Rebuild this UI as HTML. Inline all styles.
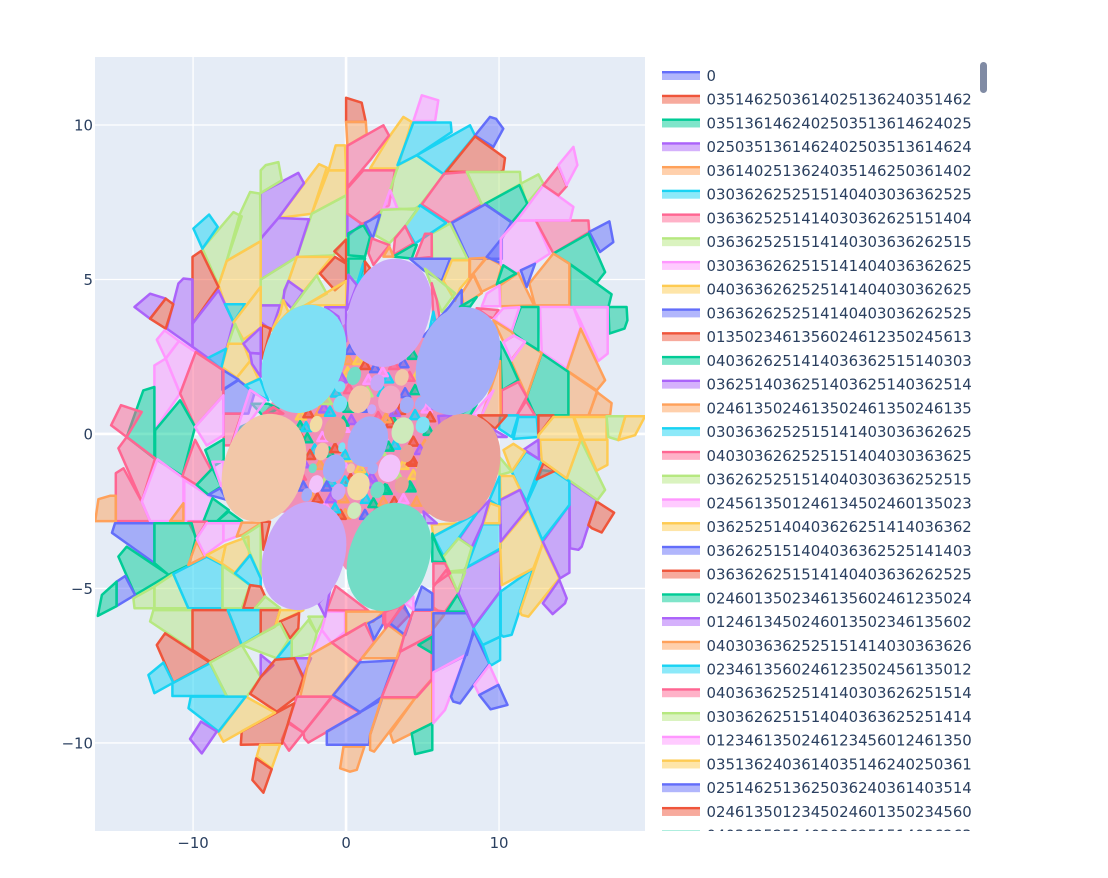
<!DOCTYPE html>
<html><head><meta charset="utf-8"><title>Polygon tiling chart</title>
<style>html,body{margin:0;padding:0;background:#fff}svg{display:block}text{font-family:"DejaVu Sans","Liberation Sans",sans-serif;font-size:14.9px;fill:#2a3f5f}</style>
</head><body>
<svg id="chart" width="1108" height="878" viewBox="0 0 1108 878" xmlns="http://www.w3.org/2000/svg">
<defs>
<clipPath id="plot-clip"><rect x="95" y="57" width="550" height="774"/></clipPath>
<clipPath id="legend-clip"><rect x="655" y="57" width="340" height="774"/></clipPath>
</defs>
<rect x="95" y="57" width="550" height="774" fill="#E5ECF6"/>
<g id="grid"></g>
<g id="cells" clip-path="url(#plot-clip)"></g>
<g id="ticks"></g>
<g id="legend" clip-path="url(#legend-clip)"></g>
<rect x="980" y="62" width="7" height="31" rx="3.5" fill="#808BA4"/>
</svg>
<script>
const legendNames = ["0","0351462503614025136240351462","0351361462402503513614624025","0250351361462402503513614624","0361402513624035146250361402",
"0303626252515140403036362525","0363625251414030362625151404","0363625251514140303636262515","0303636262515141404036362625","0403636262525141404030362625",
"0363626252514140403036262525","0135023461356024612350245613","0403626251414036362515140303","0362514036251403625140362514","0246135024613502461350246135",
"0303636252515141403036362625","0403036262525151404030363625","0362625251514040303636252515","0245613501246134502460135023","0362525140403626251414036362",
"0362625151404036362525141403","0363626251514140403636262525","0246013502346135602461235024","0124613450246013502346135602","0403036362525151414030363626",
"0234613560246123502456135012","0403636252514140303626251514","0303626251514040363625251414","0123461350246123456012461350","0351362403614035146240250361",
"0251462513625036240361403514","0246135012345024601350234560","0403625251403036251514036263"];
const seriesColors = ["#636efa","#EF553B","#00cc96","#ab63fa","#FFA15A","#19d3f3","#FF6692","#B6E880","#FF97FF","#FECB52"];
const xTickValues = [-10,0,10];
const yTickValues = [10,5,0,-5,-10];
const xRange = [-16.41,19.54];
const yRange = [12.2,-12.85];

/* each cell: colour index, then x,y pairs in data units */
const upperLeftCells = [
[1,0,10.88,1.02,10.72,1.29,10.1,0,10.1],[4,0,10.1,1.29,10.1,1.35,9.7,.09,9.33],
[9,-1.15,8.53,-.68,9.34,-.07,9.34,0,8.53],[9,-2.24,7.13,-1.15,8.53,0,8.53,0,7.72],[9,-4.42,6.99,-1.77,8.73,-1.26,8.62,-2.24,7.13],
[7,-3.22,5.73,-2.24,7.13,0,7.72,0,6.32,-.83,5.78],[3,-5.58,6.32,-5.58,7.8,-3.12,8.45,-2.75,8.12,-4.42,6.99],[7,-5.58,7.8,-5.58,8.53,-5.25,8.7,-4.42,8.8,-4.2,8.21],
[3,-5.58,6.32,-4.42,6.99,-2.42,6.95,-3.22,5.73,-5.58,5],[7,-7.8,5.6,-6.93,7.13,-6.27,7.83,-5.62,7.78,-5.58,6.24],[7,-8.34,4.81,-9.39,6,-7.36,7.18,-6.82,7.04,-7.8,5.6],
[5,-9.39,6,-9.98,6.65,-8.95,7.1,-8.39,6.7],[9,-7.8,5.6,-5.58,6.24,-5.58,4.76,-7.36,3.62,-7.91,4.2,-8.34,4.81],[1,-10.04,3.57,-10.04,5.73,-9.48,5.92,-8.34,4.76],
[3,-11.72,3.41,-10.96,4.87,-10.63,5.03,-10.04,5,-10.04,2.82,-10.96,3.14],[3,-13.83,4.11,-12.81,4.54,-11.79,4.38,-12.81,3.73],[1,-12.81,3.73,-11.79,4.38,-11.29,4.2,-11.79,3.41],
[3,-10.04,3.57,-8.34,4.65,-7.36,3.62,-8.17,2.11,-9.11,2.49,-10.04,2.82],[7,-5.58,5,-3.22,5.73,-4.31,4.16,-5.58,4.16],[5,-7.91,4.2,-6.6,4.2,-7.36,3.62],
[3,-5.58,4.16,-4.31,4.16,-4.86,3.35,-5.58,3.62],[9,-3.77,4.95,-3.22,5.73,-.94,5.73,-2.79,4.6],[1,-1.7,5.19,-.72,5.73,0,5.51,0,4.97,-.72,4.65],[1,-.76,5.91,0,6.29,0,5.57],
[3,-4.03,4.65,-3.77,4.95,-2.79,4.6,-3.55,4.06,-4.1,4.33],[7,-3.66,3.98,-1.92,5.13,-1.26,4.54,-2.68,4.16],[9,-2.68,4.16,0,4.95,0,4.16],[9,-4.86,3.35,-4.31,3.89,-4.1,4.33,-3.77,3.95],
[1,-5.51,3.52,-4.92,3.41,-5.29,2.71,-5.51,2.44],[9,-7.36,3.62,-5.58,4.76,-5.58,3.44,-6.71,3.05],[7,-7.69,2.92,-7.25,3.57,-6.71,2.92],[9,-7.69,2.92,-6.71,2.92,-6.27,2.36,-7.15,1.82,-8.13,2.17],
[9,-7.15,1.82,-6.27,2.36,-5.73,1.79,-6.6,1.57],[3,-6.71,2.92,-5.58,3.44,-5.58,2.6,-6.27,2.62],[3,-6.27,2.62,-5.58,2.6,-5.58,1.85,-6.15,2.27],[5,-9.11,2.44,-7.84,2.76,-8.17,2.11],
[0,-8.02,1.43,-7.04,1.74,-6.6,1.57,-5.99,1.31,-6.38,.66,-8.02,.66],[0,-8.08,2.08,-7.04,1.76,-8.08,1.43],[5,-6.6,1.57,-5.62,1.79,-5.08,1.09,-5.95,1.31],[6,-8,.66,-6.82,.66,-7.52,-.37,-8,-.37],
[2,-6.16,.98,-5.08,.98,-4.42,.82,-5.4,.57],[2,-6.88,.23,-5.4,.57,-7.52,-.4],[8,-6.27,1.43,-5.25,1.09,-7.47,-.37],[6,-5.4,.66,-4.75,.87,-4.1,.66],
[8,-12.37,3.05,-11.87,3.35,-10.92,3.01,-11.79,2.44],[8,-11.79,2.44,-10.92,3.01,-9.83,2.65,-10.85,1.31],[8,-12.53,.12,-12.53,2.22,-11.79,2.44,-10.85,1.31],
[6,-10.85,1.31,-9.83,2.65,-8.02,2.06,-8.02,1.25,-9.87,.23],[2,-12.48,.12,-10.85,1.09,-9.87,.23,-10.7,-1.36,-12.48,-.79],[8,-9.87,.23,-8.02,1.25,-8.02,-.04,-9.11,-.37],
[2,-14.34,-.1,-13.25,1.41,-12.53,1.52,-12.53,-.79],[6,-15.36,.28,-14.71,.93,-13.36,.71,-14.34,-.1],[2,-9.2,-.52,-8,-.17,-8,-.85,-8.77,-1.08],
[3,.09,7.13,1.02,6.8,.09,6.4],[2,.15,6.49,1.13,6.76,1.57,6.38,1.24,5.74,.15,5.78],[2,.15,5.68,1.24,5.68,1.02,5.2,.7,4.82,.15,5.15],[5,.7,4.82,1.13,5.52,1.24,5.2],[3,.15,5.15,.7,4.82,.26,4.23,.04,4.01],
[3,-1.37,4.1,0,4.1,0,3,-.5,3.8]
];
const upperRightCells = [
[8,4.4,10.13,4.95,10.96,6.03,10.8,5.82,10.13],[9,1.57,8.59,2.88,9.66,3.75,10.26,4.29,10.1,3.36,8.59],[6,.09,9.33,2.44,9.99,2.81,9.66,1.57,8.86,.09,7.99],
[6,.09,7.95,1.13,8.53,3.2,8.53,2.81,7.4,2.33,7.24,1.57,6.91,1.02,6.8,.09,7.13],[7,3.42,8.7,4.62,9.02,6.4,8.4,4.84,7.4,4.4,7.26,3.36,7.29,2.88,7.9],[8,2.44,7.29,2.88,7.89,3.36,7.29],
[5,3.36,8.7,4.4,10.08,6.84,10.08,6.9,9.77,4.62,9.02],[5,4.62,9.02,8.1,9.99,8.43,9.66,6.47,8.48,6.4,8.4],[0,8.43,9.66,9.41,10.26,9.8,10.2,10.28,9.88,9.63,9.29],[1,6.54,8.48,8.43,9.63,10.39,8.93,10.28,8.53,10.07,8.48],
[6,4.95,7.43,6.4,8.42,7.89,8.48,8.87,7.43,6.8,6.83],[7,7.89,8.48,11.37,8.48,11.42,8.1,9.09,7.45,8.87,7.43],[7,11.42,8.1,12.57,8.4,12.9,8.1,11.81,7.45],[2,9.09,7.45,11.33,8.05,11.85,7.45,10.83,6.84],
[0,6.91,6.83,9.09,7.43,10.83,6.86,10.18,6.32,10.18,5.67,7.99,5.67],[7,5.6,6.48,6.8,6.81,7.93,5.67,5.64,5.67],[5,3.86,6.72,4.84,7.4,6.54,6.83,4.51,6.16],[7,1.89,6.44,2.33,7.25,4.73,7.3,3.86,6.71,2.83,6.17],
[6,3.09,5.79,3.2,6.33,3.86,6.73,4.4,6.17],[6,4.51,5.67,5.16,6.48,5.6,6.48,5.6,5.73],[0,1.24,6.82,2.22,7.09,1.74,6.33],[6,1.46,5.85,1.68,6.33,2.83,6.11,1.79,5.47],[2,3.09,5.74,4.4,6.12,4.62,6.12,4.29,5.68],[4,2.44,5.74,2.83,6.06,3.09,5.74],[1,1.24,5.58,1.57,5.36,1.24,5.15],
[0,4.18,5.67,6.8,5.67,6.25,4.95,5.06,5.3],[9,6.36,4.95,6.91,5.62,8.1,5.62,8.1,5.08,7.45,4.7,7.13,4.31],[7,5.16,5.35,7.13,4.55,6.25,3.95],[6,5.6,4.88,5.71,3.69,6.14,3.69,5.93,4.33],[5,5.4,3.25,5.71,3.96,5.82,3.68],[4,8.06,5.67,9.19,5.7,8.32,5.19,8.06,5.08],
[4,8.32,5.19,9.19,5.73,10.18,5.46,9.85,4.84,8.87,4.6],[4,7.56,4.55,8.32,5.14,8.87,4.56,7.67,4.16],[0,9.19,5.73,10.11,6.29,10.11,5.53],[8,10.11,6.32,11.16,6.91,12.4,6.91,13.33,5.84,12.35,5.53,11.16,5.21,10.11,5.49],
[6,12.4,6.91,15.84,6.91,15.9,6.54,13.55,5.84],[8,11.16,6.91,12.9,8.05,14.86,7.35,14.64,6.91],[6,12.9,8.05,13.88,8.66,14.42,8.02,13.88,7.72],[8,13.88,8.7,14.86,9.29,15.12,8.7,14.42,8.05],[0,15.9,6.54,17.21,6.88,17.47,6.21,16.6,5.89],
[2,13.55,5.84,15.84,6.48,16.93,5.24,16.38,4.89,14.6,5.51],[2,14.64,5.49,17.36,4.52,17.15,4.11,14.64,4.11],[4,11.98,4.87,12.35,4.16,14.6,4.16,14.6,5.51,13.55,5.84],[4,10.07,4.81,11.26,5.21,12.29,4.16,10.07,4.13],
[2,9.85,4.84,10.28,5.46,11.11,5.19],[0,11.42,5.3,12.35,5.51,11.81,4.76],[8,8.87,4.13,9.19,4.54,10.02,4.81,10.07,4.13],[0,5.05,3.15,6.75,4.12,7.56,4.66,7.56,4.12],[2,7.45,4.12,8.54,4.43,8.1,4.12],[6,8.54,4.07,9.96,4.01,9.63,3.74,9.3,3.8],[2,17.15,4.11,18.34,4.11,18.39,3.68,18.2,3.41,17.21,3.25],
[8,14.86,4.11,17.1,4.11,17.1,2.6,16.49,2.36,15.29,3.68],[8,12.68,4.11,14.86,4.11,15.34,3.46,14.42,2.11,12.79,2.65],[4,14.42,2.06,15.34,3.41,16.93,1.74,16.38,1.41],[4,14.53,2.01,16.43,1.36,15.84,.6,14.53,.6],
[4,16.38,1.36,17.36,1,17.26,.6,15.88,.6],[2,11.81,1.2,12.79,2.6,14.53,2.01,14.53,.6,12.35,.6],[4,10.76,2.38,11.7,2.98,12.79,2.62,11.81,1.22],[2,10.83,3.3,11.42,4.11,12.57,4.11,12.57,2.71,11.7,2.98],
[8,9.63,3.71,10.28,4.07,11.33,4.1,10.83,3.34],[4,9.63,3.68,10.83,3.3,11,3.19,10.29,2.98],[8,10.29,2.98,10.94,3.19,11.7,2.98,10.83,2.38],[2,10.07,2.98,10.72,2.33,11.26,1.74,10.18,1.41],
[6,10.18,1.41,11.26,1.68,11.81,1.2,11.16,.6,10.18,.6],[6,11.16,.6,11.77,1.07,12.35,.6],[4,8.87,.6,10.07,2.36,10.11,.6],[8,8.2,.6,9.63,1.41,8.87,.6],[2,7.34,.6,8.54,.96,8.1,.6],[3,6.03,.58,6.88,.61,6.14,.24],
[5,10.07,.6,11.26,.6,10.83,-.1,10,.17],[5,11.26,.55,12.46,.55,12.57,-.1,10.94,-.16],[1,8.65,.6,10.5,.6,9.74,.17],[1,12.57,.6,13.55,.6,12.57,-.04],[3,9.52,.17,10.5,-.1,9.85,-.1],
[9,12.57,-.19,12.57,-.04,13.55,.55,14.86,.55,15.34,-.19],[9,14.9,.55,17.03,.55,17.03,-.19,15.51,-.19],[7,17.03,.57,18.25,.57,17.8,-.2,17.14,-.1],[9,18.25,.57,19.54,.57,18.89,-.04,17.8,-.2]
];
const lowerLeftCells = [
[6,-14.88,-.46,-14.34,-.1,-12.48,-.79,-13.36,-2.19],[6,-15.05,-2.82,-15.05,-1.27,-14.55,-1.11,-13.36,-2.19,-12.81,-2.82],[4,-16.4,-2.82,-16.19,-2.11,-15.43,-2,-15.05,-2,-15.05,-2.82],
[8,-13.36,-2.19,-12.33,-.82,-10.63,-1.43,-10.63,-2.82,-12.81,-2.82],[8,-10.57,-1.49,-8.73,-2.08,-9.32,-2.82,-10.57,-2.82],[4,-11.5,-2.82,-10.63,-2.24,-10.63,-2.82],
[6,-10.7,-1.36,-9.87,-.19,-8.82,-1.16,-9.76,-1.65],[2,-9.76,-1.65,-8.73,-1.11,-8.17,-1.7,-9,-1.97],[8,-8.73,-.9,-8.02,-.9,-8.02,-1.49,-8.17,-1.7],[0,-9,-1.97,-8.23,-1.76,-7.8,-2.13],
[2,-9.32,-2.82,-8.73,-2.08,-7.67,-2.46,-8.43,-2.82],[2,-8.43,-2.82,-7.67,-2.51,-6.8,-2.82],[6,-10.3,-2.84,-9.1,-2.84,-9.76,-3.38],[0,-15.3,-3.2,-15.1,-2.89,-12.53,-2.89,-12.53,-4.18],
[2,-12.53,-2.89,-10.09,-2.89,-9.83,-3.38,-10.26,-4.24,-11.6,-4.56,-12.53,-4.18],[2,-14.88,-3.97,-14.34,-3.65,-11.6,-4.56,-13.79,-5.21],[0,-15,-4.78,-14.44,-4.6,-13.79,-5.21,-15,-5.57],[2,-16.23,-5.89,-15.96,-5.21,-15,-4.78,-15,-5.57],
[7,-13.83,-5.64,-13.9,-5.32,-12.53,-4.94,-12.53,-5.64],[7,-12.53,-4.94,-11.29,-4.53,-10.31,-5.64,-12.53,-5.64],[5,-11.29,-4.53,-9.11,-3.97,-8.08,-4.24,-8.08,-5.64,-10.31,-5.64],[4,-10.31,-4.24,-9.76,-3.48,-9.23,-3.97],
[8,-9.76,-3.38,-9.11,-2.89,-8.02,-2.89,-8.02,-3.48,-9.23,-3.92],[8,-8.02,-2.89,-6.82,-2.89,-7.15,-3.32,-8.02,-3.48],[9,-9.11,-3.92,-7.87,-3.59,-8.13,-4.19],[9,-7.87,-3.59,-6.38,-3.32,-6.34,-3.92,-7.25,-4.49,-8.13,-4.19],
[4,-7.15,-3.32,-6.82,-2.87,-5.51,-2.87,-6.78,-3.27],[7,-6.78,-3.32,-5.58,-2.93,-5.58,-4.67,-6.27,-3.86],[1,-5.51,-2.84,-4.97,-2.84,-5.4,-3.75],[7,-8.08,-4.27,-6.27,-4.89,-6.82,-5.64,-8.08,-5.64],
[5,-7.25,-4.51,-6.27,-3.92,-5.58,-4.67,-5.58,-4.94,-6.27,-4.89],[1,-6.71,-5.64,-6.27,-4.89,-5.58,-4.94,-5.29,-5.26,-5.95,-5.64],[7,-5.95,-5.64,-5.29,-5.26,-4.31,-5.64],[7,-12.81,-6.07,-12.59,-5.7,-10.04,-5.7,-10.04,-6.99],
[1,-10.04,-5.7,-7.73,-5.7,-6.82,-6.83,-8.89,-7.37,-10.04,-6.99],[5,-7.73,-5.7,-5.58,-5.7,-5.58,-6.45,-6.82,-6.83],[1,-5.58,-5.7,-4.31,-5.7,-4.64,-6.23,-5.58,-6.48],[9,-4.31,-5.7,-2.79,-5.7,-4.31,-6.07,-4.64,-6.23],
[1,-4.31,-6.07,-3.07,-5.8,-3.12,-6.29,-3.66,-6.61],[1,-12.37,-6.83,-11.83,-6.45,-8.89,-7.4,-11.29,-8.05],[5,-12.92,-7.8,-11.94,-7.4,-11.29,-8.05,-12.53,-8.39],[5,-11.35,-8.48,-11.35,-8.07,-8.89,-7.42,-7.8,-8.48],
[7,-8.89,-7.4,-6.82,-6.83,-5.58,-7.87,-6.49,-8.5,-7.8,-8.5],[7,-6.82,-6.83,-4.31,-6.13,-3.77,-6.67,-4.53,-7.26],[5,-4.53,-7.26,-3.55,-6.67,-3.55,-7.26],[7,-3.55,-6.67,-2.46,-6.02,-1.92,-6.45,-2.24,-7.1,-3.55,-7.26],
[7,-2.46,-5.91,-1.37,-5.91,-1.92,-6.45],[8,-2.24,-7.1,-1.59,-6.34,-.94,-6.77],[8,-1.59,-6.34,-1.26,-5.75,-.07,-5.75,-.07,-6.4,-.94,-6.77],[6,-1.26,-5.7,-.68,-4.92,1.46,-5.72],[3,-1.81,-5.48,-1.05,-5.05,-1.37,-5.91],
[3,-5.58,-7.15,-4.75,-7.48,-5.58,-7.87],[3,-3.38,-7.26,-2.29,-7.26,-2.85,-7.87],[1,-6.27,-8.41,-5.58,-7.87,-4.64,-7.31,-3.38,-7.26,-2.79,-7.87,-3.22,-8.5,-4.53,-8.99],[4,-3,-8.5,-2.35,-7.15,-.94,-6.75,.81,-7.4,-.94,-8.5],
[4,0,-5.75,2.44,-5.75,1.79,-6.07,1.24,-6.13,0,-6.5],[6,-.94,-6.75,1.24,-6.13,1.83,-6.75,.81,-7.4],[0,1.46,-6.13,2.44,-5.85,2.44,-6.13,1.83,-6.65],[6,-3.77,-9.31,-3.22,-8.5,-.94,-8.5,-2.79,-9.67],[6,-2.79,-9.67,-.89,-8.5,.92,-9.02,-2.46,-9.99,-2.72,-9.85],[6,-4.2,-9.9,-3.77,-9.36,-2.79,-9.67,-3.73,-10.25],
[1,-6.88,-10.06,-6.82,-9.63,-3.4,-8.72,-4.2,-10.03],[9,-8.34,-9.67,-6.56,-8.5,-4.64,-9.02,-8.02,-9.96],[5,-10.3,-8.88,-10.15,-8.5,-6.56,-8.5,-8.34,-9.63],[3,-10.2,-9.87,-9.48,-9.31,-8.45,-9.63,-9.43,-10.34],
[9,-5.84,-10.44,-5.62,-10.06,-4.31,-10.06,-4.86,-10.82],[1,-6.12,-11.2,-5.88,-10.5,-4.86,-10.85,-5.4,-11.61],[4,-.39,-10.82,-.17,-10.12,1.2,-10.12,.7,-10.87,.26,-10.93]
];
const lowerRightCells = [
[0,-1.26,-10.06,-1.26,-9.63,2.33,-8.6,1.57,-9.74,1.5,-10.06],[0,-.83,-8.45,.92,-7.39,3.2,-7.33,2.33,-8.52,.92,-9],[4,1.57,-10.23,1.83,-10.28,4.51,-8.55,2.33,-8.55,1.57,-9.74],[4,2.88,-9.68,3.09,-9.99,5.64,-9.36,5.64,-7.91,4.51,-8.55],
[2,4.29,-9.69,4.51,-10.36,5.64,-10.23,5.64,-9.36],[6,2.33,-8.52,3.53,-7.05,5.6,-6.5,5.6,-7.97,4.62,-8.52],[4,1.03,-7.26,2.77,-6.19,3.79,-6.56,3.31,-7.26],[6,2.44,-5.8,3.53,-5.48,4.14,-5.86,3.3,-6.3,2.44,-6.13],[0,2.88,-6.13,3.75,-5.5,4.23,-5.97,3.86,-6.51],
[6,3.53,-7.04,3.8,-6.5,4.4,-5.72,5.64,-5.72,5.64,-6.5],[4,5.64,-5.59,6.4,-5.86,5.64,-6.34],[2,4.73,-6.83,5.64,-6.56,5.64,-7.1],[6,5.71,-4.94,6.55,-4.4,7.34,-5.16,6.47,-5.75,5.71,-5.7],[2,6.58,-5.75,7.28,-5.21,7.89,-5.75],
[0,5.71,-7.71,5.71,-5.8,7.89,-5.8,8.37,-6.29,7.89,-7.15],[8,5.71,-7.71,7.82,-7.15,6.8,-8.5,6.47,-8.93,5.71,-9.36],[0,6.86,-8.5,7.82,-7.15,8.37,-6.4,9.37,-7.44,7.45,-8.72,7,-8.66],[5,8.32,-6.27,10.07,-5.1,10.07,-6.56,8.93,-6.83],
[5,8.93,-6.83,10.07,-6.56,10.07,-7.32,9.52,-7.48,9.37,-7.44],[8,8.39,-8.12,9.37,-7.48,9.96,-8.12,8.71,-8.45],[0,8.71,-8.45,9.96,-8.12,10.55,-8.77,9.45,-8.91],[3,7.34,-5.16,7.78,-4.35,10.07,-3.75,10.07,-5.1,8.32,-6.24],[5,7.89,-4.32,8.93,-2.92,10.11,-2.92,10.11,-3.7],
[5,10.11,-5.1,12.24,-4.35,10.83,-6.5,10.29,-6.56,10.11,-6.5],[9,10.18,-4.89,10.07,-3.54,11.92,-2.46,12.86,-3.54,12.24,-4.35],[9,11.37,-5.75,12.86,-3.54,13.94,-4.67,11.92,-5.91,11.48,-5.86],[3,12.86,-5.48,13.94,-4.72,14.42,-5.32,14.31,-5.48,13.51,-5.83],
[3,12.86,-3.48,14.6,-2.3,14.6,-4.49,13.99,-4.67],[3,14.6,-1.54,16.38,-2.14,15.4,-3.65,15.19,-3.75,14.64,-3.7],[1,16.38,-2.19,17.52,-2.55,16.71,-3.19,16.06,-3.05,15.84,-2.95],[7,14.42,-1.44,15.34,-.19,16.93,-1.81,16.43,-2.14],
[5,11.81,-2.24,12.79,-1.17,13.66,-1.22,14.6,-1.54,14.6,-2.3,12.83,-3.43],[5,10.83,-1.22,11.77,-.57,12.79,-.86,11.81,-2.19,11.37,-1.79],[1,12.46,-1.47,12.9,-.95,13.66,-1.19],[9,12.68,-.19,15.34,-.19,14.42,-1.44,12.79,-.86],
[9,15.51,-.19,17.08,-.19,17.08,-1,16.38,-1.19],[3,11.63,-.5,12.57,-.19,12.61,-.82],[9,10.29,-.52,10.94,-.32,11.7,-.57,10.83,-1.22],[7,10.02,-.75,10.83,-1.22,10.02,-1.33],[9,10.07,-1.36,10.94,-1.36,11.37,-1.79,10.11,-2.11],[3,10.07,-2.14,11.37,-1.81,11.87,-2.41,10.11,-3.48],
[5,9.37,-2.14,10.02,-1.38,10.02,-2.35],[9,8.98,-2.89,9.41,-2.24,10.02,-2.35,10.02,-2.89],[3,7.41,-3.38,8.54,-2.57,9.37,-2.14,8.93,-2.89,8.21,-3.67],[9,5.6,-2.94,7.23,-2.89,5.71,-3.32],[5,5.71,-3.32,8.54,-2.57,7.34,-3.38,6.36,-3.95],
[7,6.36,-3.97,7.34,-3.38,8.21,-3.67,7.78,-4.4,6.75,-4.45],[7,6.75,-4.48,7.78,-4.48,7.28,-5.1],[2,5.64,-3.22,5.64,-4.13,6.47,-4.15,6.04,-3.75],[6,5.71,-4.19,6.47,-4.19,6.8,-4.51,5.71,-4.89],[0,4.4,-5.69,4.95,-4.94,5.64,-5.16,5.64,-5.69],
[8,3.86,-5.48,4.4,-5.26,4.4,-5.69],[6,2.55,-5.75,3.75,-5.54,2.88,-6.11,2.55,-6.29],[3,5.06,-2.51,5.93,-2.89,5.16,-2.89]
];
const centerUnderlay = [6,0,3.6,2.8,2.5,5.5,3.4,7.3,2.3,7.5,.6,7.3,-1.1,5.5,-2.6,2.8,-2.5,0,-4.4,-2.75,-2.5,-5.5,-2.6,-5.4,-1.1,-5.5,.6,-2.75,2.4];
/* colour index, centre x, centre y, radius x, radius y */
const largeOvals = [[5,-2.75,2.43,2.62,1.78],[3,2.81,3.92,2.62,1.78],[0,7.32,2.36,2.62,1.78],[4,-5.36,-1.1,2.62,1.78],[1,7.32,-1.1,2.62,1.78],[3,-2.75,-3.95,2.62,1.78],[2,2.81,-3.98,2.62,1.78]];
const smallOvals = [[0,1.42,-.25,1.26,.83],[2,.52,1.88,.44,.3],[4,.87,1.12,.7,.45],[6,2.83,1.12,.7,.45],[0,3.97,.94,.44,.27],[3,2.05,1.66,.44,.27],[4,3.64,1.83,.44,.27],[5,-.39,.97,.44,.27],[5,-.39,1.53,.33,.18],
[1,-.72,.13,.7,.43],[9,-1.96,.32,.39,.27],[7,3.7,.11,.7,.43],[5,5.01,.29,.44,.27],[1,3.97,-.63,.44,.29],[8,2.83,-1.11,.7,.45],[0,-.78,-1.11,.7,.45],[4,-1.59,-.57,.44,.29],[5,-.28,-.43,.22,.16],[9,.81,-1.7,.7,.45],
[2,2.05,-1.81,.44,.27],[3,-.5,-1.87,.44,.27],[8,-1.96,-1.62,.44,.29],[1,3.64,-1.65,.44,.27],[7,.54,-2.48,.44,.27],[0,1.74,-1.11,.33,.19],[2,-2.18,-1.11,.26,.16],[3,1.68,.8,.28,.16],[4,.31,-1.11,.26,.16],[0,4.84,.99,.33,.22],[0,-2.57,-1.97,.33,.22]];
/* colour index, centre x, centre y of the tiny triangular cells */
const tinyTriangles = [[9,-2.95,.6],[4,-2.1,1.05],[8,-1.75,1.5],[6,-.95,1.9],[4,-1.7,.72],[1,-1.3,-.05],[8,-1.55,-.1],[7,-2.9,-.55],[5,-2.05,-.5],[3,-2.75,-.95],[2,-1.1,-.6],[8,-.2,-.95],[7,-1.35,-1.55],[9,.2,-.75],[1,.3,-1.45],[5,1.15,-1.3],[3,1.6,-1.6],[7,2.25,-.55],[8,2.65,-.3],[2,3,.5],[5,3.2,-.35],[1,2.9,.35],[6,2.1,.55],[0,1.05,.85],[3,.35,.45],[2,.15,.85],[8,-.1,.2],[9,.1,2],[6,1.55,2.5],[1,2.9,2.55],[5,2.75,1.8],[7,1.4,1.35],[9,4.65,1.9],[8,4.95,1.45],[6,4.15,1.85],[5,5.4,1.25],[3,5.65,.95],[2,5.4,.1],[7,5.75,-.1],[4,5.15,-.35],[9,4.95,-.95],[0,5.3,-.7],[8,5.15,-1.45],[6,4.95,-1.7],[1,3.15,-2.2],[7,3.3,-1.3],[5,1.3,-2.1],[4,-.05,-2.6],[6,1.9,-2.6],[8,-1.35,-2.35],[7,-2.05,-2.4],[6,-2.95,-1.35],[1,-3,-.1],[2,-3,.25],[5,-.95,-1.55],[6,.2,1.45],
[1,-2.46,.67],[5,-2.61,.22],[2,-2.53,-.14],[3,-1.44,.83],[5,-1.05,.72],[7,-1.26,1.1],[4,.15,2.39],[9,.81,2.39],[0,1.9,2.13],[8,1.46,1.75],[8,2.4,2],[1,1.24,2.23],[0,3.75,2.29],[6,3.14,2.23],[2,4.51,1.42],[0,3.86,1.32],[8,5.27,.83],[3,-.28,1.8],[5,-.65,1.34],[2,4.36,2.56],[0,.26,2.72],[1,5.49,.54],[1,3.53,.78],[5,2.4,1.37],[4,2.61,.51],[2,2.77,-.41],[1,4.4,-.25],[3,4.84,-.52],[9,3.75,-1],[1,4.4,-.9],[4,-1.7,-1],[1,-2.35,-.68],[0,-2.79,-1.7],[4,-2.31,-1.97],[1,-1.87,-2.08],[3,-1,-2.08],[4,-.17,-2.08],[0,-1.26,-1.7],[5,-.07,-1.54],[2,1.79,-2.24],[0,1.24,-2.62],[1,-.35,-2.62],[5,-.72,-2.41],[2,2.66,-1.81],[9,4.4,-1.33],[2,4.18,-1.7],[4,4.62,-2.19],[1,-.72,-.46],[5,-.07,-.68],[2,-.17,.4],[3,1.68,-1.4],[9,.92,-1.11],[3,3.2,.72],[5,4.51,.61],[1,4.29,-.86],[2,4.23,-1.73],[2,2.55,-1.79],[8,3.75,-2.11],[4,2.44,-2.19]];

const plotLeft=95, plotTop=57, plotWidth=550, plotHeight=774;
const NS="http://www.w3.org/2000/svg";
function X(v){return plotLeft+(v-xRange[0])/(xRange[1]-xRange[0])*plotWidth;}
function Y(v){return plotTop+(v-yRange[0])/(yRange[1]-yRange[0])*plotHeight;}
function make(tag,attrs,parent){const el=document.createElementNS(NS,tag);for(const k in attrs)el.setAttribute(k,attrs[k]);parent.appendChild(el);return el;}
function blend(hex){const n=parseInt(hex.slice(1),16);const bg=[229,236,246];return "rgb("+[(n>>16)&255,(n>>8)&255,n&255].map((c,i)=>Math.round((c+bg[i])/2)).join(",")+")";}
function cellPath(cell){let d="";for(let i=1;i<cell.length;i+=2)d+=(i===1?"M":"L")+X(cell[i]).toFixed(1)+" "+Y(cell[i+1]).toFixed(1);return d+"Z";}

const grid=document.getElementById("grid");
const cellsLayer=document.getElementById("cells");
const ticks=document.getElementById("ticks");
const legend=document.getElementById("legend");

xTickValues.forEach(v=>{
  const line=make("line",{x1:X(v),x2:X(v),y1:plotTop,y2:plotTop+plotHeight,stroke:"#fff","stroke-width":v===0?2.6:1.3},grid);
  
  
  const t=make("text",{x:X(v),y:848,"text-anchor":"middle"},ticks);
  t.textContent=String(v).replace("-","\u2212");
  
  
});
yTickValues.forEach(v=>{
  const line=make("line",{x1:plotLeft,x2:plotLeft+plotWidth,y1:Y(v),y2:Y(v),stroke:"#fff","stroke-width":v===0?2.6:1.3},grid);
  
  
  const t=make("text",{x:93,y:Y(v)+5.5,"text-anchor":"end"},ticks);
  t.textContent=String(v).replace("-","\u2212");
  
  
});

const under=make("path",{d:cellPath(centerUnderlay),fill:"#f08fb8"},cellsLayer);


[upperLeftCells,upperRightCells,lowerLeftCells,lowerRightCells].forEach(group=>{
  group.forEach(cell=>{
    const color=seriesColors[cell[0]];
    const p=make("path",{d:cellPath(cell),fill:color,"fill-opacity":.5,stroke:color,"stroke-width":2.5,"stroke-linejoin":"round"},cellsLayer);
    
    
  });
});
function drawOval(o,name){
  const cx=X(o[1]),cy=Y(o[2]);
  const rx=o[3]*plotWidth/(xRange[1]-xRange[0]),ry=o[4]*plotHeight/(yRange[0]-yRange[1]);
  const power=2/2.15;
  let d="";
  for(let a=0;a<360;a+=6){
    const r=a*Math.PI/180,c=Math.cos(r),s=Math.sin(r);
    const px=cx+rx*Math.sign(c)*Math.pow(Math.abs(c),power),py=cy+ry*Math.sign(s)*Math.pow(Math.abs(s),power);
    d+=(a===0?"M":"L")+px.toFixed(1)+" "+py.toFixed(1);
  }
  const e=make("path",{d:d+"Z",fill:blend(seriesColors[o[0]]),transform:"rotate(18 "+cx+" "+cy+")"},cellsLayer);
  
  
}
tinyTriangles.forEach(t=>{
  const color=seriesColors[t[0]];
  const x=X(t[1]),y=Y(t[2]);
  const p=make("path",{d:"M"+x+" "+(y-5)+"L"+(x+5)+" "+(y+4)+"L"+(x-5)+" "+(y+4)+"Z",fill:color,"fill-opacity":.6,stroke:color,"stroke-width":2.5,"stroke-linejoin":"round"},cellsLayer);
  
  
});
smallOvals.forEach(o=>drawOval(o,'small-oval'));
largeOvals.forEach(o=>drawOval(o,'large-oval'));

legendNames.forEach((name,i)=>{
  const color=seriesColors[i%10];
  const top=71+i*23.74;
  const g=make("g",{},legend);
  
  
  make("rect",{x:662,y:top+1,width:38,height:8,fill:color,"fill-opacity":.5},g);
  make("rect",{x:662,y:top,width:38,height:2.4,fill:color},g);
  const t=make("text",{x:706.5,y:top+10},g);
  t.textContent=name;
});
</script>
</body></html>
